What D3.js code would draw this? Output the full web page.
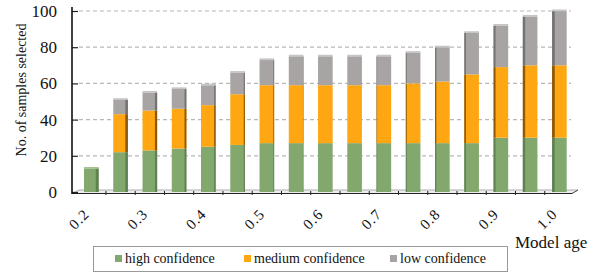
<!DOCTYPE html>
<html>
<head>
<meta charset="utf-8">
<script src="https://cdn.jsdelivr.net/npm/d3@7"></script>
<style>
  body { margin: 0; background: #fff; }
  svg { display: block; }
  svg text { font-family: "Liberation Serif", "Times New Roman", Times, "DejaVu Serif", serif; }
</style>
</head>
<body>
<svg id="chart" width="603" height="275"></svg>
<script>
// model age categories (17 bars, every other one labelled)
const ages = ["0.2", "0.25", "0.3", "0.35", "0.4", "0.45", "0.5", "0.55", "0.6", "0.65", "0.7", "0.75", "0.8", "0.85", "0.9", "0.95", "1.0"];
const shownLabels = ["0.2", "0.3", "0.4", "0.5", "0.6", "0.7", "0.8", "0.9", "1.0"];

// stacked values
const high   = [13, 22, 23, 24, 25, 26, 27, 27, 27, 27, 27, 27, 27, 27, 30, 30, 30];
const medium = [0, 21, 22, 22, 23, 28, 32, 32, 32, 32, 32, 33, 34, 38, 39, 40, 40];
const low    = [0, 8, 10, 11, 11, 12, 14, 16, 16, 16, 16, 17, 19, 23, 23, 27, 30];

const yTicks = [0, 20, 40, 60, 80, 100];
const seriesNames = ["high confidence", "medium confidence", "low confidence"];

const front = ["#82a86e", "#ffa712", "#a8a4a4"];
const side  = ["#5b7a4b", "#7a4a05", "#6c6a6a"];
const topc  = ["#a6c294", "#ffc768", "#c8c5c5"];

const svg = d3.select("#chart");

const x = d3.scaleBand().domain(ages).range([76.7, 574]).paddingInner(0.5).paddingOuter(0.25);
const y = d3.scaleLinear().domain([0, 100]).range([192, 11]);

// stack
const rows = ages.map((a, i) => ({ age: a, high: high[i], medium: medium[i], low: low[i] }));
const stack = d3.stack().keys(["high", "medium", "low"])(rows);

// gridlines on back wall
svg.append("g")
  .selectAll("line")
  .data(yTicks.filter(d => d > 0))
  .join("line")
  .attr("x1", 79).attr("x2", 571)
  .attr("y1", d => y(d)).attr("y2", d => y(d))
  .attr("stroke", "#b8b8b8")
  .attr("stroke-width", 1.2)
  .attr("stroke-dasharray", "4,3");

// floor
svg.append("path")
  .attr("d", `M72,${y(0) + 1.5} L572,${y(0) + 1.5} L578,${y(0) - 2} L79,${y(0) - 2} Z`)
  .attr("fill", "#eeeeee")
  .attr("stroke", "#999")
  .attr("stroke-width", 0.8);
svg.append("line")
  .attr("x1", 72).attr("x2", 572)
  .attr("y1", y(0) + 1.5).attr("y2", y(0) + 1.5)
  .attr("stroke", "#222").attr("stroke-width", 1.2);
svg.append("line")
  .attr("x1", 572).attr("x2", 578)
  .attr("y1", y(0) + 1.5).attr("y2", y(0) - 2)
  .attr("stroke", "#555").attr("stroke-width", 1);

// x ticks between bars
const step = x.step();
svg.append("g")
  .selectAll("line")
  .data(ages.slice(1))
  .join("line")
  .attr("x1", d => x(d) - (step - x.bandwidth()) / 2)
  .attr("x2", d => x(d) - (step - x.bandwidth()) / 2)
  .attr("y1", y(0) - 1).attr("y2", y(0) + 3)
  .attr("stroke", "#222").attr("stroke-width", 1);

// bars, with a fake 3D side strip depending on position
const bw = x.bandwidth();
const sideWidth = a => (335 - (x(a) + bw / 2)) * 0.012;

stack.forEach((layer, k) => {
  const g = svg.append("g");
  layer.forEach(d => {
    const a = d.data.age;
    if (d[1] - d[0] <= 0) return;
    const x0 = x(a), y0 = y(d[1]), h = y(d[0]) - y(d[1]);
    g.append("rect").attr("x", x0).attr("y", y0).attr("width", bw).attr("height", h).attr("fill", front[k]);
    const s = sideWidth(a);
    if (Math.abs(s) > 0.4) {
      g.append("rect")
        .attr("x", s > 0 ? x0 + bw - s : x0)
        .attr("y", y0).attr("width", Math.abs(s)).attr("height", h)
        .attr("fill", side[k]).attr("opacity", 0.85);
    }
  });
});

// lighter top face on each stack
svg.append("g")
  .selectAll("rect")
  .data(rows)
  .join("rect")
  .attr("x", d => x(d.age))
  .attr("y", d => y(d.high + d.medium + d.low) - 1.5)
  .attr("width", bw)
  .attr("height", 1.8)
  .attr("fill", d => topc[d.low > 0 ? 2 : (d.medium > 0 ? 1 : 0)]);

// y axis
const yAxis = svg.append("g")
  .attr("transform", "translate(72,0)")
  .call(d3.axisLeft(y).tickValues(yTicks).tickSize(-6).tickPadding(15).tickSizeOuter(0));
yAxis.attr("font-family", null).attr("font-size", null);
yAxis.select(".domain").remove();
yAxis.selectAll(".tick line").attr("stroke", "#222").attr("stroke-width", 1.2);
yAxis.selectAll("text")
  .attr("font-size", 17)
  .attr("fill", "#111");
svg.append("line")
  .attr("x1", 72).attr("x2", 72)
  .attr("y1", 7).attr("y2", y(0) + 2)
  .attr("stroke", "#111").attr("stroke-width", 1.6);

// x labels
svg.append("g")
  .selectAll("text")
  .data(shownLabels)
  .join("text")
  .attr("transform", d => `translate(${x(d) + bw / 2 - 1},215) rotate(-45)`)
  .attr("text-anchor", "end")
  .attr("font-size", 15)
  .attr("letter-spacing", 1)
  .attr("fill", "#111")
  .text(d => d);

// axis titles
svg.append("text")
  .attr("transform", "translate(26,90) rotate(-90)")
  .attr("text-anchor", "middle")
  .attr("font-size", 14)
  .attr("fill", "#111")
  .text("No. of samples selected");

svg.append("text")
  .attr("x", 515).attr("y", 248)
  .attr("font-size", 17)
  .attr("fill", "#111")
  .text("Model age");

// legend
const legend = svg.append("g");
legend.append("rect")
  .attr("x", 93.5).attr("y", 246.5).attr("width", 414).attr("height", 25)
  .attr("fill", "none")
  .attr("stroke", "#333")
  .attr("stroke-width", 1)
  .attr("stroke-dasharray", "1,1");
const legX = [115, 244, 390];
seriesNames.forEach((name, i) => {
  legend.append("rect")
    .attr("x", legX[i]).attr("y", 255).attr("width", 7).attr("height", 7)
    .attr("fill", front[i]);
  legend.append("text")
    .attr("x", legX[i] + 10).attr("y", 263)
    .attr("font-size", 14)
    .attr("fill", "#111")
    .text(name);
});
</script>
</body>
</html>
